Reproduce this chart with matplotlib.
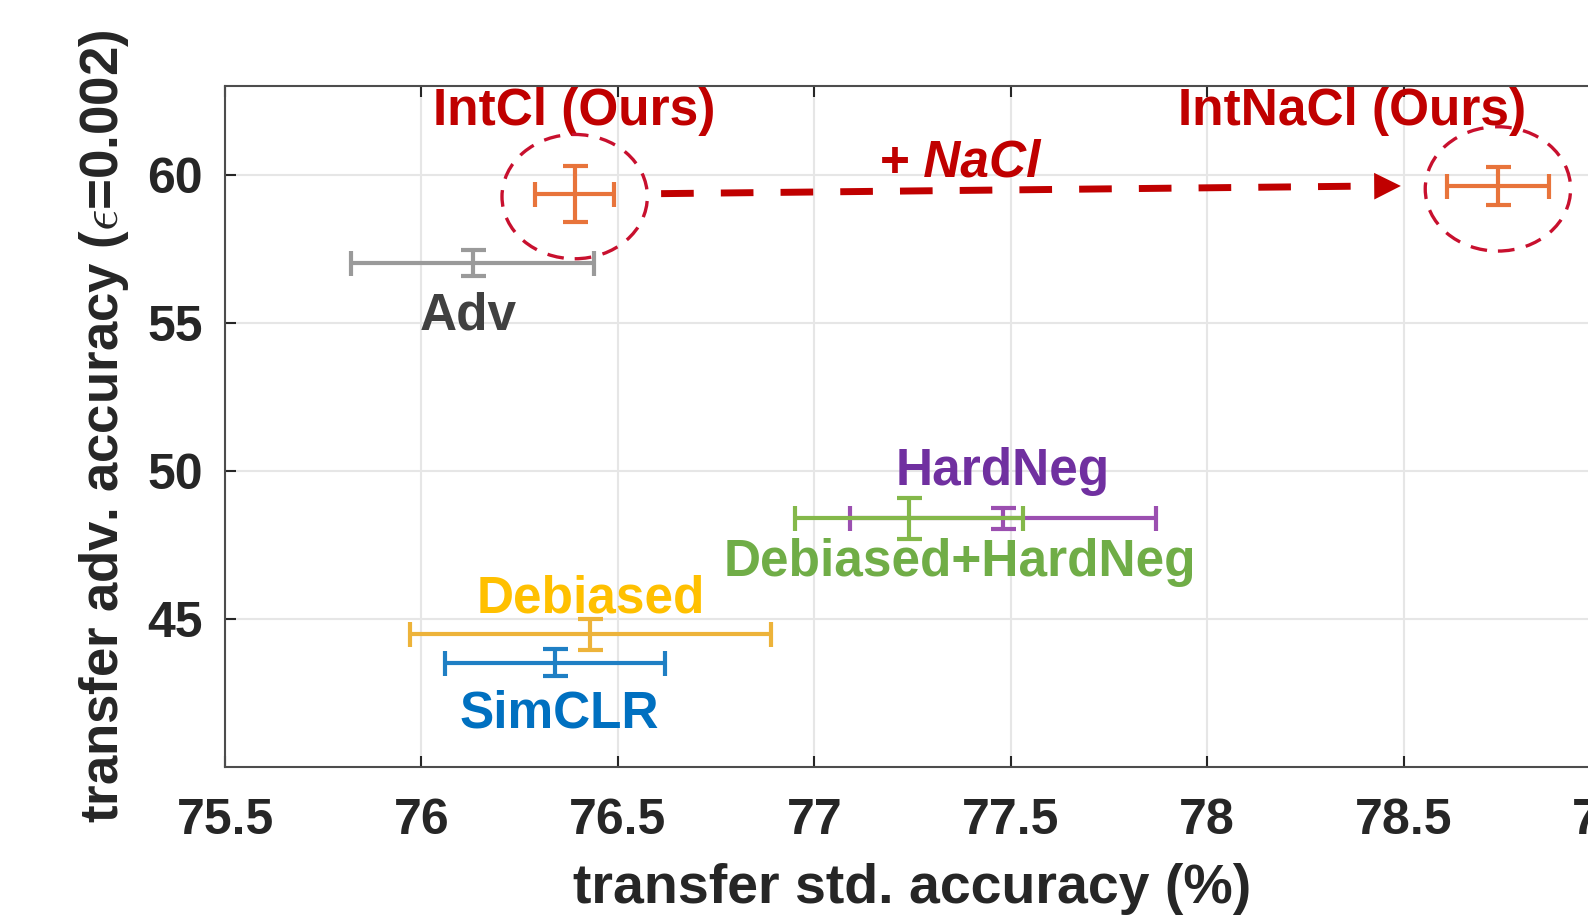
import matplotlib.pyplot as plt
from matplotlib.patches import Ellipse

plt.rcParams['font.family'] = ['Liberation Sans', 'DejaVu Sans']
plt.rcParams['mathtext.fontset'] = 'cm'

# data
methods = ['IntCl (Ours)', 'IntNaCl (Ours)', 'Adv', 'HardNeg', 'Debiased+HardNeg', 'Debiased', 'SimCLR']
std_acc = [76.39, 78.74, 76.13, 77.48, 77.24, 76.43, 76.34]
std_err = [0.10, 0.13, 0.31, 0.39, 0.29, 0.46, 0.28]
adv_acc = [59.37, 59.63, 57.03, 48.40, 48.40, 44.48, 43.52]
adv_err = [0.95, 0.65, 0.45, 0.35, 0.70, 0.52, 0.45]

bar_colors = ['#E8743B', '#E8743B', '#9A9A9A', '#9B4FB0', '#84B84A', '#EDB33A', '#1F7FC4']
text_colors = ['#C00000', '#C00000', '#404040', '#7030A0', '#70AD47', '#FFC000', '#0070C0']
# label positions (x, y) in data units
label_pos = [(76.39, 62.15), (78.37, 62.15), (76.12, 55.25), (77.48, 49.97),
             (77.37, 46.9), (76.43, 45.68), (76.35, 41.8)]

x_ticks = [75.5, 76, 76.5, 77, 77.5, 78, 78.5, 79]
y_ticks = [45, 50, 55, 60]

fig = plt.figure(figsize=(15.88, 9.17), dpi=100)
ax = fig.add_axes([0.1417, 0.1636, 1.0076 - 0.1417, 0.906 - 0.1636])

draw_order = [2, 6, 5, 3, 4, 0, 1]
for i in draw_order:
    ax.errorbar(std_acc[i], adv_acc[i], xerr=std_err[i], yerr=adv_err[i],
                color=bar_colors[i], lw=3, capsize=9, capthick=3, zorder=3)

for i, name in enumerate(methods):
    ax.text(label_pos[i][0], label_pos[i][1], name, color=text_colors[i],
            fontsize=37, fontweight='bold', ha='center', va='center', zorder=4)

# dashed circles round our two methods
for i in [0, 1]:
    ax.add_patch(Ellipse((std_acc[i], adv_acc[i] - 0.1), 0.37, 4.2, fill=False,
                         edgecolor='#C8102E', lw=2.4, linestyle=(0, (5, 3.5)), zorder=4))

# dashed arrow from IntCl to IntNaCl
x0 = std_acc[0] + 0.22
x1 = std_acc[1] - 0.24
ax.plot([x0, x1 - 0.06], [adv_acc[0], adv_acc[1]], color='#C00000', lw=5,
        dashes=(4.7, 3.9), zorder=4)
ax.annotate('', xy=(x1, adv_acc[1]), xytext=(x1 - 0.1, adv_acc[1] - 0.01),
            arrowprops=dict(arrowstyle='-|>', color='#C00000', lw=0, mutation_scale=48), zorder=4)
ax.text(77.37, 60.4, '+ NaCl', color='#C00000', fontsize=37, fontweight='bold',
        fontstyle='italic', ha='center', va='center', zorder=4)

ax.set_xlim(75.5, 79)
ax.set_ylim(40, 63)
ax.set_xticks(x_ticks)
ax.set_xticklabels([f'{t:g}' for t in x_ticks])
ax.set_yticks(y_ticks)
ax.grid(True, color='#E6E6E6', lw=1.5, zorder=0)
ax.set_axisbelow(True)
ax.tick_params(direction='in', length=8, width=1.5, top=True, right=True,
               labelsize=36, labelcolor='#262626', color='#262626')
ax.tick_params(axis='x', pad=22)
ax.tick_params(axis='y', pad=16)
for lab in ax.get_xticklabels() + ax.get_yticklabels():
    lab.set_fontweight('bold')
for sp in ax.spines.values():
    sp.set_color('#4D4D4D')
    sp.set_linewidth(1.5)

ax.set_xlabel('transfer std. accuracy (%)', fontsize=40, fontweight='bold',
              color='#262626', labelpad=14)
ax.set_ylabel(r'transfer adv. accuracy ($\epsilon$=0.002)', fontsize=38,
              fontweight='bold', color='#262626', labelpad=12)

fig.savefig('out.png', dpi=100)
